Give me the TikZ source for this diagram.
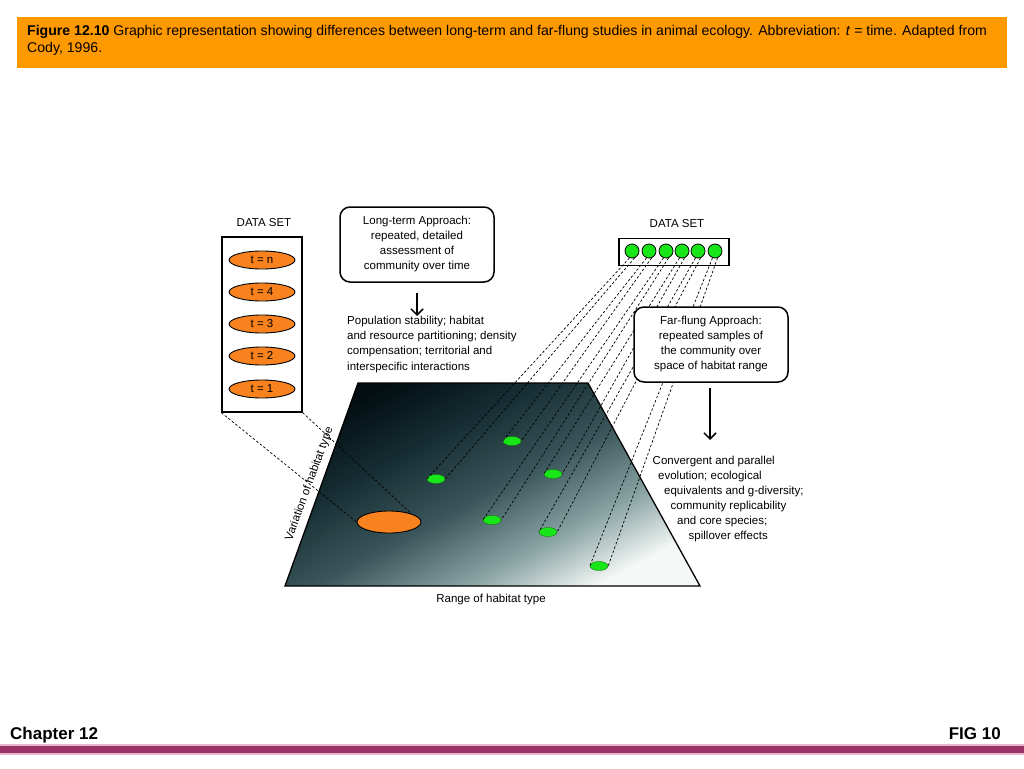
\documentclass[tikz,border=0pt]{standalone}
\usepackage{fontspec}
\setmainfont{Liberation Sans}
\usetikzlibrary{arrows.meta,shapes.geometric}
\definecolor{headorange}{RGB}{255,153,0}
\definecolor{setorange}{RGB}{247,130,30}
\definecolor{dotgreen}{RGB}{25,230,25}
\definecolor{barmaroon}{RGB}{153,51,102}
\definecolor{barpink}{RGB}{235,180,205}
\definecolor{planedark}{RGB}{2,14,18}
\definecolor{planedeep}{RGB}{20,44,49}
\definecolor{planemid}{RGB}{58,86,90}
\definecolor{planesoft}{RGB}{138,164,164}
\definecolor{planelight}{RGB}{244,248,246}
\pgfdeclarehorizontalshading{planeshade}{100bp}{color(0bp)=(planedark); color(25bp)=(planedark); color(37bp)=(planedeep); color(51bp)=(planemid); color(64bp)=(planesoft); color(75bp)=(planelight); color(100bp)=(planelight)}

\begin{document}
\begin{tikzpicture}[x=1pt, y=-1pt, >=stealth, font=\fontsize{11.5}{14}\selectfont,
  tset/.style={ellipse, draw, line width=0.9pt, fill=setorange, minimum width=66pt, minimum height=18pt, inner sep=0pt},
  gdot/.style={circle, draw, line width=0.8pt, fill=dotgreen, minimum size=14pt, inner sep=0pt},
  pdot/.style={ellipse, draw=dotgreen!55!black, fill=dotgreen, minimum width=18pt, minimum height=9pt, inner sep=0pt},
  setbox/.style={draw, line width=1.3pt, inner sep=0pt},
  approach/.style={draw, fill=white, line width=1.5pt, rounded corners=10pt, align=center, inner sep=0pt,
    minimum width=154pt, minimum height=75pt, font=\fontsize{11.5}{15}\selectfont},
  link/.style={dash pattern=on 2.5pt off 2pt, line width=0.7pt},
  bigarrow/.style={-{Straight Barb[length=6pt, width=12pt]}, line width=1.5pt}]
  \useasboundingbox (0,0) rectangle (1024,768);

  \fill[headorange] (17,17) rectangle (1007,68);
  \node[anchor=north west, inner sep=0pt, align=left, font=\fontsize{14.1}{17}\selectfont] (caption) at (27,25)
    {\textbf{Figure 12.10} Graphic representation showing differences between long-term and far-flung studies in animal ecology. Abbreviation: \textit{t} = time. Adapted from\\Cody, 1996.};

  \shade[shading=planeshade, shading angle=-62]
    (358,383) -- (588,383) -- (700,586) -- (285,586) -- cycle;
  \draw[line width=1.3pt] (358,383) -- (588,383) -- (700,586) -- (285,586) -- cycle;

  \node (lsettitle) at (264,223) {DATA SET};
  \node[setbox, minimum width=80pt, minimum height=175pt] (lset) at (262,324.5) {};
  \foreach \lab/\y in {n/260, 4/292, 3/324, 2/356, 1/389}
    \node[tset] (t\lab) at (262,\y) {t = \lab};
  \node[tset, minimum width=64pt, minimum height=22pt] (bigset) at (389,522) {};

  \node (rsettitle) at (677,224) {DATA SET};
  \node[setbox, minimum width=110pt, minimum height=27pt] (rset) at (674,252) {};
  \foreach \i/\x in {1/632, 2/649, 3/666, 4/682, 5/698, 6/715}
    \node[gdot] (c\i) at (\x,251) {};
  \foreach \i/\x/\y in {1/436/479, 2/512/441, 3/492/520, 4/553/474, 5/548/532, 6/599/566}
    \node[pdot] (d\i) at (\x,\y) {};

  \draw[link] (lset.south west) -- (bigset.west);
  \draw[link] (lset.south east) -- (bigset.20);
  \foreach \i in {1,...,6} {
    \draw[link] (c\i.250) -- (d\i.west);
    \draw[link] (c\i.290) -- (d\i.east);
  }

  \node[rotate=70, inner sep=1pt] (vlabel) at (309.5,484) {Variation of habitat type};
  \node (hlabel) at (491,600) {Range of habitat type};

  \node[approach] (ltbox) at (417,244.5) {Long-term Approach:\\repeated, detailed\\assessment of\\community over time};
  \node[anchor=north west, inner sep=0pt, align=left, font=\fontsize{11.5}{15.2}\selectfont] (ltres) at (347,316)
    {Population stability; habitat\\and resource partitioning; density\\compensation; territorial and\\interspecific interactions};
  \draw[bigarrow] (ltbox.south) ++(0,10) -- (ltbox.south |- ltres.north);

  \node[approach] (ffbox) at (711,344.5) {Far-flung Approach:\\repeated samples of\\the community over\\space of habitat range};
  \node[anchor=north west, inner sep=0pt, align=left, font=\fontsize{11.5}{15}\selectfont] (ffres) at (652.5,456)
    {Convergent and parallel\\\hspace*{5.5pt}evolution; ecological\\\hspace*{11.5pt}equivalents and g-diversity;\\\hspace*{18pt}community replicability\\\hspace*{24.5pt}and core species;\\\hspace*{36pt}spillover effects};
  \draw[bigarrow, shorten <=5pt, shorten >=16pt] (ffbox.south -| 710,0) -- (ffres.north -| 710,0);

  \node[anchor=base west, inner sep=0pt, font=\fontsize{17}{20}\selectfont\bfseries] (chapter) at (10,739) {Chapter 12};
  \node[anchor=base east, inner sep=0pt, font=\fontsize{17}{20}\selectfont\bfseries] (fignum) at (1001,739) {FIG 10};
  \fill[barpink] (0,744) rectangle (1024,755);
  \fill[barmaroon] (0,746) rectangle (1024,753);
\end{tikzpicture}
\end{document}
